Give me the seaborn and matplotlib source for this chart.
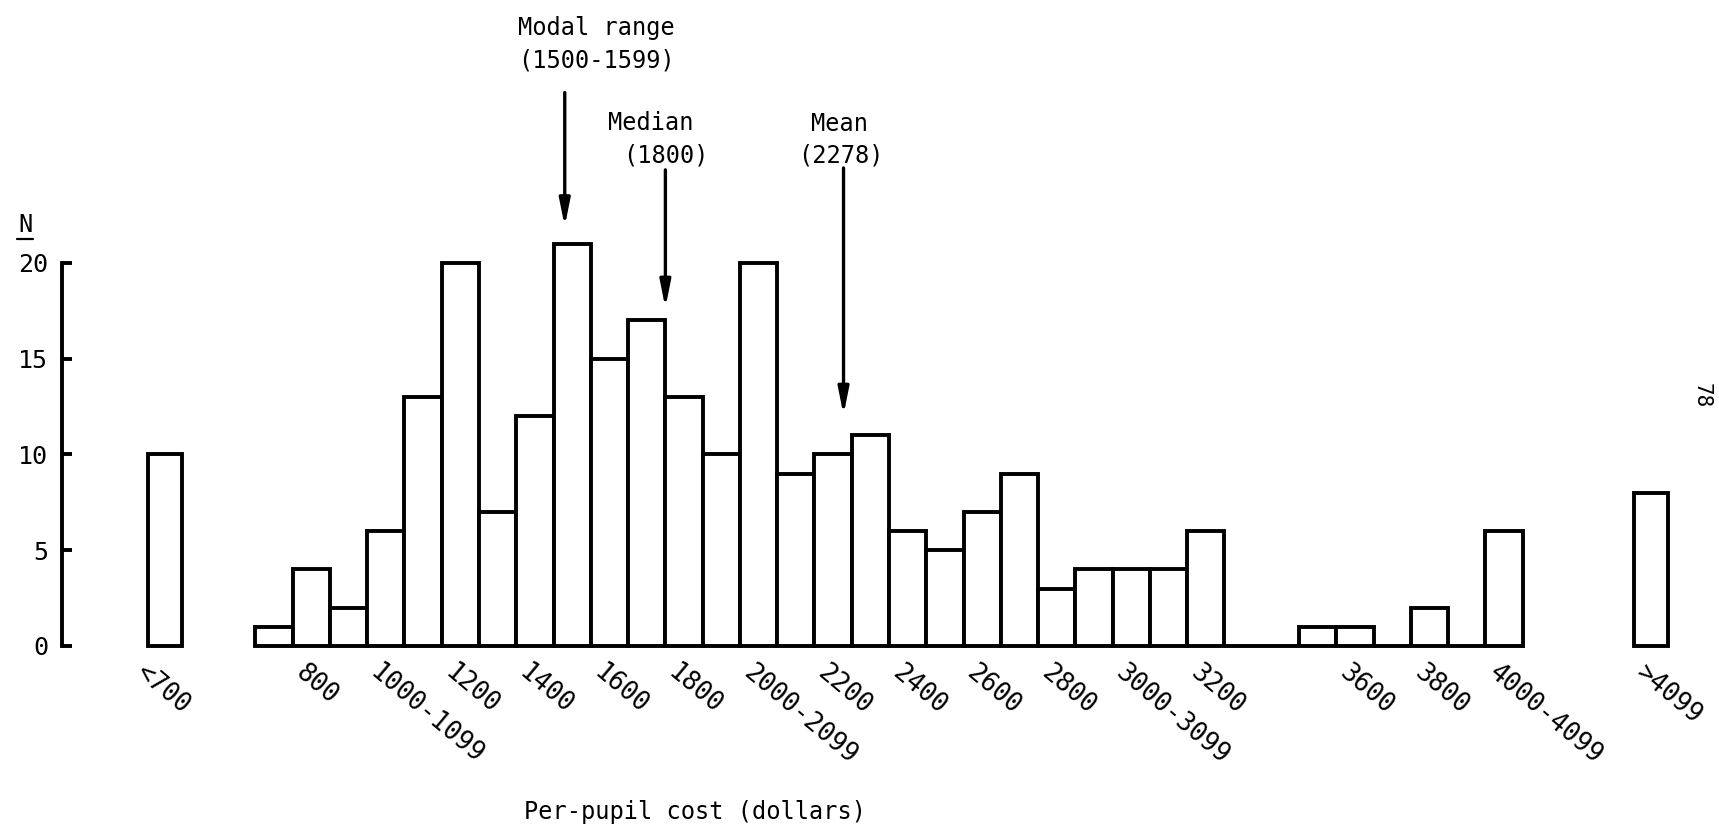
import matplotlib
matplotlib.use("Agg")
import matplotlib.pyplot as plt
import seaborn as sns

# Number of schools per $100 per-pupil-cost bin, 700-799 through 4000-4099
bin_starts = list(range(700, 4100, 100))
counts = [1, 4, 2, 6, 13, 20, 7, 12, 21, 15,
          17, 13, 10, 20, 9, 10, 11, 6, 5, 7,
          9, 3, 4, 4, 4, 6, 0, 0, 1, 1,
          0, 2, 0, 6]

# Open-ended classes drawn apart from the main run of bins
open_labels = ["<700", ">4099"]
open_positions = [457, 4444]
open_counts = [10, 8]

# Category labels under the axis
tick_labels = ["<700", "800", "1000-1099", "1200", "1400", "1600", "1800",
               "2000-2099", "2200", "2400", "2600", "2800", "3000-3099",
               "3200", "3600", "3800", "4000-4099", ">4099"]

y_ticks = [0, 5, 10, 15, 20]

# Summary statistics marked with arrows
modal_lo, modal_hi = 1500, 1599
median_cost = 1800
mean_cost = 2278

sns.set_theme(style="white")
plt.rcParams["font.family"] = ["DejaVu Sans Mono", "DejaVu Sans"]

INK = "black"
FS = 17
LW = 2.8

fig = plt.figure(figsize=(17.19, 8.31), dpi=100)
ax = fig.add_axes([0.0, 0.2111, 1.0, 0.7889])

centers = [s + 50 for s in bin_starts]
sns.barplot(x=centers, y=counts, native_scale=True, width=1.0,
            color="white", saturation=1, edgecolor=INK, linewidth=LW,
            errorbar=None, ax=ax)
sns.barplot(x=open_positions, y=open_counts, native_scale=True,
            width=92 / (open_positions[1] - open_positions[0]),
            color="white", saturation=1, edgecolor=INK, linewidth=LW,
            errorbar=None, ax=ax)

ax.set_xlim(14.7, 4627)
ax.set_ylim(-0.5, 33.73)

# Vertical N axis
for side in ["top", "right", "bottom"]:
    ax.spines[side].set_visible(False)
ax.spines["left"].set_position(("data", 181))
ax.spines["left"].set_bounds(0, 20)
ax.spines["left"].set_color(INK)
ax.spines["left"].set_linewidth(LW)
ax.set_yticks(y_ticks)
ax.set_yticklabels([str(v) for v in y_ticks])
ax.tick_params(axis="y", left=True, direction="in", length=7, width=LW,
               color=INK, pad=10, labelsize=18, labelcolor=INK)

# Slanted class labels
tick_pos = []
for lab in tick_labels:
    if lab == "<700":
        tick_pos.append(412)
    elif lab == ">4099":
        tick_pos.append(4436)
    else:
        tick_pos.append(int(lab.split("-")[0]) + 40)
ax.set_xticks(tick_pos)
ax.set_xticklabels(tick_labels)
ax.tick_params(axis="x", bottom=True, length=0, pad=3, labelsize=18.5,
               labelcolor=INK)
for t in ax.get_xticklabels():
    t.set_rotation(-40)
    t.set_rotation_mode("anchor")
    t.set_ha("left")
    t.set_va("top")

ax.set_xlabel("")
ax.set_ylabel("")

# "N" axis title, underlined
ax.text(82, 21.62, "N", ha="center", va="baseline", fontsize=FS, color=INK)
ax.plot([61, 104], [21.25, 21.25], color=INK, lw=1.6, clip_on=False)

arrow = dict(arrowstyle="-|>,head_length=0.8,head_width=0.16", lw=2.4,
             color=INK, shrinkA=0, shrinkB=0, mutation_scale=20)

# Modal range
modal_x = (modal_lo + modal_hi + 1) / 2 - 20
ax.text(1614, 31.9, "Modal range", ha="center", va="baseline", fontsize=FS,
        color=INK)
ax.text(1614, 30.18, f"({modal_lo}-{modal_hi})", ha="center", va="baseline",
        fontsize=FS, color=INK)
ax.annotate("", xy=(modal_x, 21.9), xytext=(modal_x, 28.9), arrowprops=arrow)

# Median
ax.text(1761, 26.95, "Median", ha="center", va="baseline", fontsize=FS,
        color=INK)
ax.text(1801, 25.22, f"({median_cost})", ha="center", va="baseline",
        fontsize=FS, color=INK)
ax.annotate("", xy=(median_cost, 17.65), xytext=(median_cost, 24.86),
            arrowprops=arrow)

# Mean
ax.text(2266, 26.9, "Mean", ha="center", va="baseline", fontsize=FS,
        color=INK)
ax.text(2272, 25.22, f"({mean_cost})", ha="center", va="baseline",
        fontsize=FS, color=INK)
ax.annotate("", xy=(mean_cost, 12.06), xytext=(mean_cost, 24.96),
            arrowprops=arrow)

# Horizontal axis title and page number
ax.text(1880, -8.67, "Per-pupil cost (dollars)", ha="center", va="center",
        fontsize=FS, color=INK)
ax.text(4580, 13.05, "78", ha="center", va="center", rotation=-90,
        fontsize=15, color=INK)

fig.savefig("out.png", dpi=100, facecolor="white")
